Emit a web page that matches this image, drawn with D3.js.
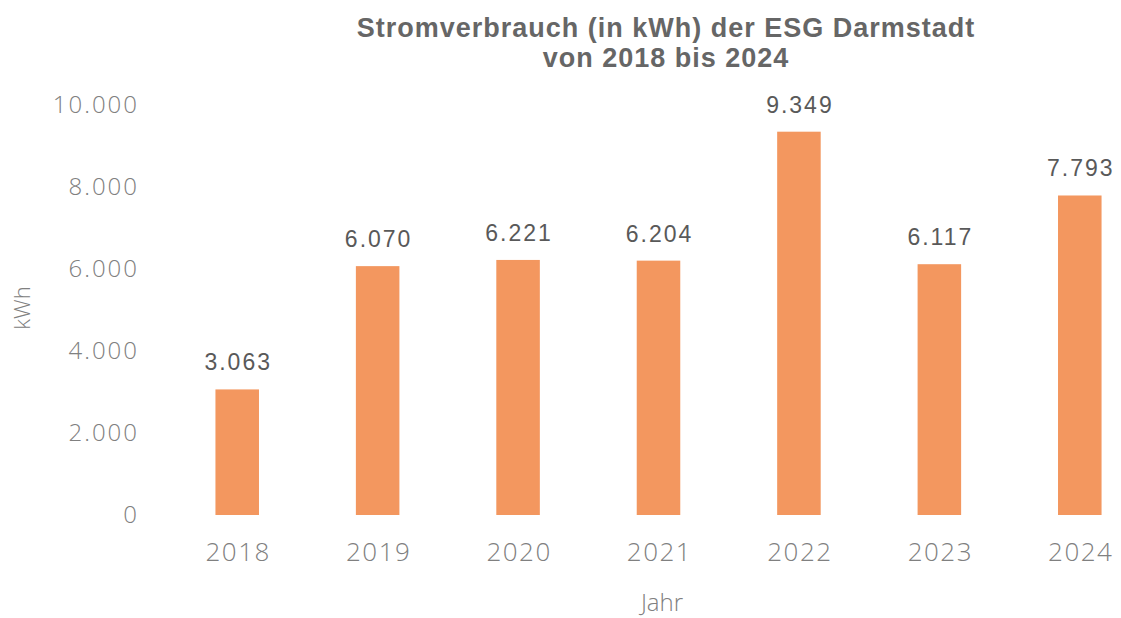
<!DOCTYPE html>
<html>
<head>
<meta charset="utf-8">
<script src="https://cdn.jsdelivr.net/npm/d3@7"></script>
<style>
  body { margin: 0; background: #fff; }
  .light { font-family: "Open Sans", Lato, sans-serif; font-weight: 300; fill: #808080; }
  .bold { font-family: "Liberation Sans", Arial, sans-serif; }
</style>
</head>
<body>
<div id="chart"></div>
<script>
// values
var years = ["2018", "2019", "2020", "2021", "2022", "2023", "2024"];
var kwh = [3063, 6070, 6221, 6204, 9349, 6117, 7793];
var yTicks = [0, 2000, 4000, 6000, 8000, 10000];

var width = 1121, height = 618;

var svg = d3.select("#chart")
  .append("svg")
  .attr("width", width)
  .attr("height", height);

var x = d3.scaleBand()
  .domain(years)
  .range([167, 1150])
  .paddingInner(0.69)
  .paddingOuter(0.345);

var y = d3.scaleLinear()
  .domain([0, 10000])
  .range([515, 105]);

// german number format: 10.000
var de = d3.formatLocale({decimal: ",", thousands: ".", grouping: [3], currency: ["", " €"]});
var fmt = de.format(",");

// title
var titleLines = ["Stromverbrauch (in kWh) der ESG Darmstadt", "von 2018 bis 2024"];
svg.selectAll(".title")
  .data(titleLines)
  .enter().append("text")
  .attr("class", "title bold")
  .attr("x", 666)
  .attr("y", function(d, i) { return 37 + i * 30; })
  .attr("text-anchor", "middle")
  .style("font-size", "27px").style("font-weight", "bold")
  .style("letter-spacing", "1px")
  .style("fill", "#666")
  .text(function(d) { return d; });

// y axis (labels only)
var yAxis = svg.append("g")
  .attr("transform", "translate(139,0)")
  .call(d3.axisLeft(y).tickValues(yTicks).tickFormat(fmt).tickSize(0).tickPadding(0));
yAxis.select(".domain").remove();
yAxis.selectAll("text")
  .attr("class", "light")
  .attr("fill", null)
  .style("font-size", "24px")
  .style("letter-spacing", "2px");

// x axis (labels only)
var xAxis = svg.append("g")
  .attr("transform", "translate(0,515)")
  .call(d3.axisBottom(x).tickSize(0).tickPadding(28));
xAxis.select(".domain").remove();
xAxis.selectAll("text")
  .attr("class", "light")
  .attr("fill", null)
  .attr("dx", "1px")
  .style("font-size", "26px")
  .style("letter-spacing", "1.5px");

// bars
svg.selectAll(".bar")
  .data(kwh)
  .enter().append("rect")
  .attr("class", "bar")
  .attr("x", function(d, i) { return x(years[i]); })
  .attr("width", x.bandwidth())
  .attr("y", function(d) { return y(d); })
  .attr("height", function(d) { return y(0) - y(d); })
  .attr("fill", "#f3975f");

// value labels
svg.selectAll(".val")
  .data(kwh)
  .enter().append("text")
  .attr("class", "val bold")
  .attr("x", function(d, i) { return x(years[i]) + x.bandwidth() / 2 + 1; })
  .attr("y", function(d) { return y(d) - 19; })
  .attr("text-anchor", "middle")
  .style("font-size", "23px")
  .style("letter-spacing", "2px")
  .style("fill", "#595959")
  .text(function(d) { return fmt(d); });

// axis titles
svg.append("text")
  .attr("class", "light")
  .attr("x", 662).attr("y", 611)
  .attr("text-anchor", "middle")
  .style("font-size", "24px")
  .text("Jahr");

svg.append("text")
  .attr("class", "light")
  .attr("transform", "translate(30,308) rotate(-90)")
  .attr("text-anchor", "middle")
  .style("font-size", "22px")
  .text("kWh");
</script>
</body>
</html>
